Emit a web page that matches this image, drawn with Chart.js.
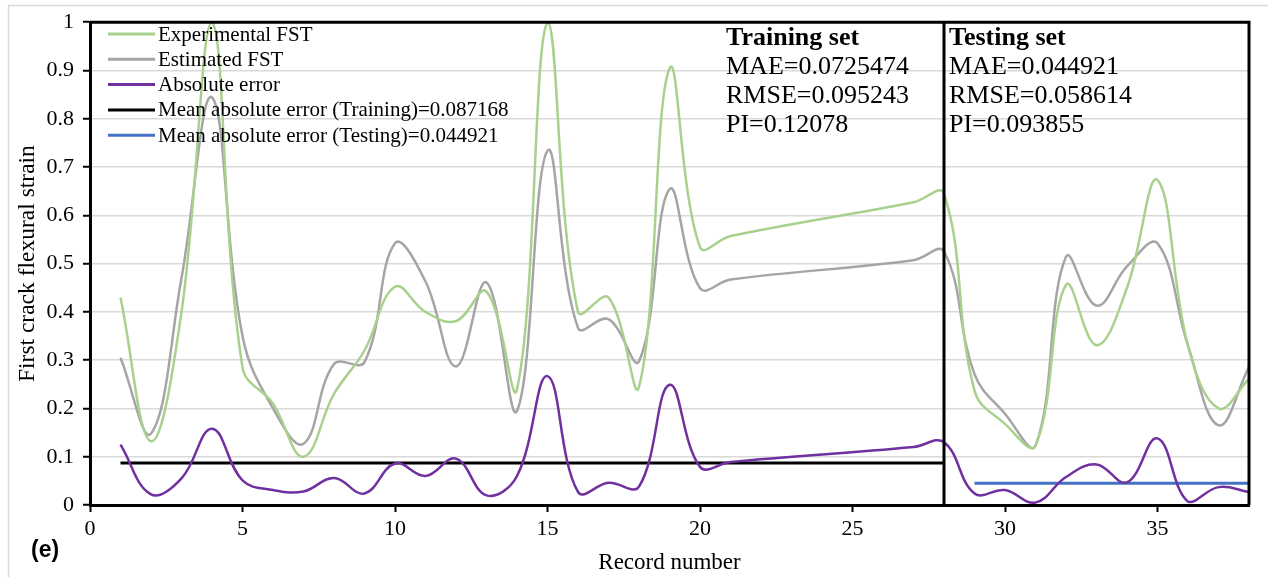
<!DOCTYPE html>
<html>
<head>
<meta charset="utf-8">
<script src="https://cdn.jsdelivr.net/npm/chart.js@4.4.1/dist/chart.umd.min.js"></script>
<style>
  html, body { margin: 0; padding: 0; background: #ffffff; }
  #wrap { position: relative; width: 1268px; height: 577px; }
  canvas { display: block; }
</style>
</head>
<body>
<div id="wrap"><canvas id="c" width="1268" height="577"></canvas></div>
<script>
// ---- data ----
const recordNumbers = [1,2,3,4,5,6,7,8,9,10,11,12,13,14,15,16,17,18,19,20,21,27,28,29,30,31,32,33,34,35,36,37,38];
const experimentalFST = [0.43,0.132,0.40,1.0,0.285,0.21,0.10,0.23,0.32,0.452,0.40,0.381,0.442,0.24,1.0,0.40,0.43,0.245,0.904,0.534,0.557,0.627,0.645,0.237,0.168,0.123,0.456,0.331,0.45,0.673,0.33,0.20,0.261];
const estimatedFST = [0.305,0.148,0.47,0.844,0.35,0.20,0.127,0.292,0.296,0.542,0.463,0.287,0.461,0.195,0.734,0.367,0.385,0.298,0.654,0.449,0.467,0.507,0.525,0.271,0.189,0.123,0.514,0.413,0.494,0.542,0.33,0.165,0.286];
const absoluteError = [0.125,0.022,0.055,0.158,0.051,0.031,0.028,0.056,0.024,0.086,0.06,0.096,0.02,0.06,0.267,0.027,0.046,0.038,0.249,0.079,0.089,0.12,0.13,0.024,0.031,0.005,0.058,0.084,0.047,0.138,0.007,0.037,0.027];
const maeTraining = 0.087168;
const maeTesting = 0.044921;
const trainingRange = [1, 28];
const testingRange = [29, 38];
const splitRecord = 28;
const xTickValues = [0,5,10,15,20,25,30,35];
const seriesLabels = ['Experimental FST','Estimated FST','Absolute error','Mean absolute error (Training)=0.087168','Mean absolute error (Testing)=0.044921'];
const trainingText = ['Training set','MAE=0.0725474','RMSE=0.095243','PI=0.12078'];
const testingText = ['Testing set','MAE=0.044921','RMSE=0.058614','PI=0.093855'];
const panelLabel = '(e)';

const toXY = (ys) => recordNumbers.map((x, i) => ({x: x, y: ys[i]}));
const SERIF = '"Liberation Serif", "Times New Roman", serif';

const extras = {
  id: 'extras',
  beforeDraw(chart) {
    const ctx = chart.ctx;
    ctx.save();
    ctx.strokeStyle = '#d9d9d9';
    ctx.lineWidth = 1.5;
    ctx.beginPath();
    ctx.moveTo(8.5, 577); ctx.lineTo(8.5, 5.5); ctx.lineTo(1268, 5.5);
    ctx.stroke();
    ctx.restore();
  },
  afterDraw(chart) {
    const ctx = chart.ctx;
    const a = chart.chartArea;
    const xs = chart.scales.x;
    ctx.save();
    ctx.strokeStyle = '#000';
    ctx.lineWidth = 3;
    ctx.beginPath();
    ctx.moveTo(a.left, a.top); ctx.lineTo(a.right, a.top); ctx.lineTo(a.right, a.bottom);
    const sx = xs.getPixelForValue(splitRecord);
    ctx.moveTo(sx, a.top); ctx.lineTo(sx, a.bottom);
    ctx.stroke();

    ctx.font = '21px ' + SERIF;
    ctx.textBaseline = 'middle';
    ctx.textAlign = 'left';
    chart.data.datasets.forEach((ds, i) => {
      const y = 34 + i * 25.3;
      ctx.strokeStyle = ds.borderColor;
      ctx.lineWidth = 3;
      ctx.beginPath(); ctx.moveTo(108, y); ctx.lineTo(155, y); ctx.stroke();
      ctx.fillStyle = '#000';
      ctx.fillText(ds.label, 158, y + 1);
    });

    const drawBlock = (lines, x) => {
      lines.forEach((t, i) => {
        ctx.font = (i === 0 ? 'bold ' : '') + '26px ' + SERIF;
        ctx.fillStyle = '#000';
        ctx.textBaseline = 'middle';
        ctx.fillText(t, x, 38 + i * 29);
      });
    };
    drawBlock(trainingText, 726);
    drawBlock(testingText, 949);

    ctx.font = 'bold 23px "Liberation Sans", Arial, sans-serif';
    ctx.textBaseline = 'middle';
    ctx.fillStyle = '#000';
    ctx.fillText(panelLabel, 31, 551);
    ctx.restore();
  }
};

new Chart(document.getElementById('c'), {
  type: 'line',
  data: {
    datasets: [
      { label: seriesLabels[0], data: toXY(experimentalFST), borderColor: '#a9d18e', borderWidth: 2.5, tension: 0.4, pointRadius: 0 },
      { label: seriesLabels[1], data: toXY(estimatedFST), borderColor: '#a5a5a5', borderWidth: 2.5, tension: 0.4, pointRadius: 0 },
      { label: seriesLabels[2], data: toXY(absoluteError), borderColor: '#7030a0', borderWidth: 2.5, tension: 0.4, pointRadius: 0 },
      { label: seriesLabels[3], data: trainingRange.map(x => ({x: x, y: maeTraining})), borderColor: '#000000', borderWidth: 3, tension: 0, pointRadius: 0 },
      { label: seriesLabels[4], data: testingRange.map(x => ({x: x, y: maeTesting})), borderColor: '#4472c4', borderWidth: 3, tension: 0, pointRadius: 0 }
    ]
  },
  options: {
    responsive: false,
    animation: false,
    events: [],
    layout: { padding: { left: 0, top: 19, right: 19, bottom: 0 } },
    plugins: { legend: { display: false }, tooltip: { enabled: false } },
    scales: {
      x: {
        type: 'linear', min: 0, max: 38,
        afterBuildTicks: (s) => { s.ticks = xTickValues.map(v => ({value: v})); },
        afterFit: (s) => { s.height = 72; },
        ticks: { font: { family: SERIF, size: 22 }, color: '#000', padding: 4, maxRotation: 0 },
        grid: { drawOnChartArea: false, tickLength: 7, tickColor: '#000', tickWidth: 2 },
        border: { color: '#000', width: 3 },
        title: { display: true, text: 'Record number', font: { family: SERIF, size: 23 }, color: '#000', padding: { top: 0, bottom: 0 } }
      },
      y: {
        min: 0, max: 1,
        afterFit: (s) => { s.width = 90; },
        ticks: { stepSize: 0.1, font: { family: SERIF, size: 22 }, color: '#000', padding: 9,
                 callback: (v) => String(Number(v.toFixed(1))) },
        grid: { color: '#d9d9d9', lineWidth: 1.5, tickLength: 7, tickColor: '#000', tickWidth: 2 },
        border: { color: '#000', width: 3 },
        title: { display: true, text: 'First crack flexural strain', font: { family: SERIF, size: 23.5 }, color: '#000', padding: { top: 14, bottom: 0 } }
      }
    }
  },
  plugins: [extras]
});
</script>
</body>
</html>
